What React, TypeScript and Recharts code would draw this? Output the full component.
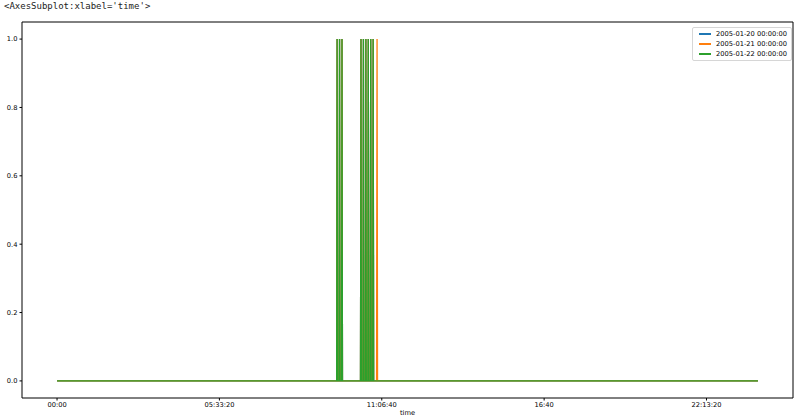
import React from "react";
import { LineChart, Line, XAxis, YAxis, ReferenceLine } from "recharts";

// seconds since midnight, per-minute samples from 00:00 to 23:59
const dayStart = 0;
const dayEnd = 86340;

// minutes of the day where the value is 1 (everything else is 0)
const spikes20 = [575, 580, 585, 624, 629, 634, 639, 644, 649];
const spikes21 = [575, 580, 585, 624, 629, 634, 639, 644, 649, 657];
const spikes22 = [575, 580, 585, 624, 629, 634, 639, 644, 649];

const seriesNames = ["2005-01-20 00:00:00", "2005-01-21 00:00:00", "2005-01-22 00:00:00"];
const seriesColors = ["#1f77b4", "#ff7f0e", "#2ca02c"];

const xTicks = [0, 20000, 40000, 60000, 80000];
const xTickLabels = ["00:00", "05:33:20", "11:06:40", "16:40", "22:13:20"];
const yTicks = [0, 0.2, 0.4, 0.6, 0.8, 1.0];

const pad = (dayEnd - dayStart) * 0.05;
const xMin = dayStart - pad;
const xMax = dayEnd + pad;
const yMin = -0.05;
const yMax = 1.05;
const font = "'DejaVu Sans', sans-serif";

const toSeries = (mins: number[]) => {
  const pts = [{ t: dayStart, v: 0 }];
  mins.forEach((m) => {
    pts.push({ t: (m - 1) * 60, v: 0 });
    pts.push({ t: m * 60, v: 1 });
    pts.push({ t: (m + 1) * 60, v: 0 });
  });
  pts.push({ t: dayEnd, v: 0 });
  return pts;
};

const series = [spikes20, spikes21, spikes22].map(toSeries);

const LegendBox = () => (
  <div
    style={{
      position: "absolute",
      left: 692,
      top: 27,
      border: "1px solid #d6d6d6",
      borderRadius: 2,
      background: "rgba(255,255,255,0.8)",
      padding: "1px 4px 1px 6px",
      fontFamily: font,
      fontSize: 6.7,
      color: "#000",
    }}
  >
    {seriesNames.map((n, i) => (
      <div key={n} style={{ display: "flex", alignItems: "center", height: 10 }}>
        <span
          style={{ display: "inline-block", width: 12, height: 1.3, background: seriesColors[i], marginRight: 5 }}
        />
        <span>{n}</span>
      </div>
    ))}
  </div>
);

export default function App() {
  return (
    <div style={{ position: "absolute", left: 0, top: 0, width: 800, height: 419, background: "#fff" }}>
      <div
        style={{
          position: "absolute",
          left: 4,
          top: 1,
          fontFamily: "'DejaVu Sans Mono', monospace",
          fontSize: 9,
          color: "#222",
          whiteSpace: "pre",
        }}
      >
        {"<AxesSubplot:xlabel='time'>"}
      </div>
      <LineChart width={800} height={419} margin={{ top: 22, right: 7, left: 0, bottom: 0 }}>
        <XAxis
          dataKey="t"
          type="number"
          domain={[xMin, xMax]}
          ticks={xTicks}
          tickFormatter={(_v: number, i: number) => xTickLabels[i]}
          height={21}
          allowDataOverflow
          stroke="#000"
          tickSize={2.5}
          tickMargin={2}
          tick={{ fill: "#000", fontSize: 6.7, fontFamily: font }}
        />
        <YAxis
          type="number"
          domain={[yMin, yMax]}
          ticks={yTicks}
          tickFormatter={(v: number) => v.toFixed(1)}
          width={22}
          allowDataOverflow
          stroke="#000"
          tickSize={2.5}
          tickMargin={2}
          tick={{ fill: "#000", fontSize: 6.7, fontFamily: font }}
        />
        <ReferenceLine y={yMax} stroke="#000" strokeWidth={1} />
        <ReferenceLine x={xMax} stroke="#000" strokeWidth={1} />
        {series.map((d, i) => (
          <Line
            key={seriesNames[i]}
            data={d}
            dataKey="v"
            name={seriesNames[i]}
            type="linear"
            stroke={seriesColors[i]}
            strokeWidth={1.3}
            dot={false}
            isAnimationActive={false}
          />
        ))}
      </LineChart>
      <LegendBox />
      <div
        style={{
          position: "absolute",
          left: 0,
          width: 815,
          top: 409,
          textAlign: "center",
          fontFamily: font,
          fontSize: 6.7,
          color: "#000",
        }}
      >
        time
      </div>
    </div>
  );
}
